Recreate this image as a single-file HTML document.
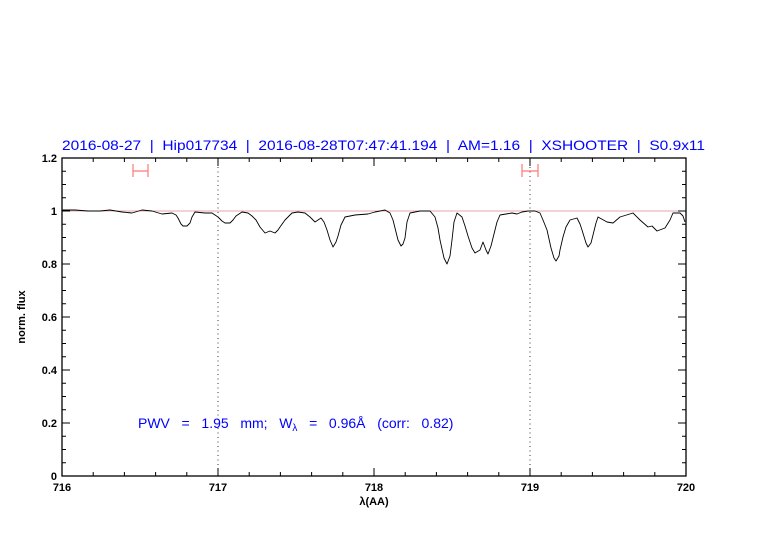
<!DOCTYPE html>
<html><head><meta charset="utf-8"><style>html,body{margin:0;padding:0;background:#fff}svg{display:block}</style></head>
<body>
<svg width="782" height="542" xmlns="http://www.w3.org/2000/svg" font-family="Liberation Sans, sans-serif">
<rect width="782" height="542" fill="#fff"/>
<text x="62" y="150" font-size="14" fill="#0000ff" xml:space="preserve" style="white-space:pre" textLength="643" lengthAdjust="spacingAndGlyphs">2016-08-27  |  Hip017734  |  2016-08-28T07:47:41.194  |  AM=1.16  |  XSHOOTER  |  S0.9x11</text>
<line x1="62" y1="211" x2="686" y2="211" stroke="#d88" stroke-width="0.8"/>
<line x1="218" y1="158" x2="218" y2="476" stroke="#000" stroke-width="0.8" stroke-dasharray="1,3.5"/>
<line x1="530" y1="158" x2="530" y2="476" stroke="#000" stroke-width="0.8" stroke-dasharray="1,3.5"/>
<g stroke="#f77" stroke-width="1.2" fill="none">
<path d="M133 171H148M133 164V177M148 164V177"/>
<path d="M522 171H538M522 164V177M538 164V177"/>
</g>
<polyline fill="none" stroke="#000" stroke-width="0.9" stroke-linejoin="round" points="62,211 63,210 75,210 88,211 100,211 110,210 122,212 132,213 142,210 152,211 162,214 172,213 176,215 178,218 181,224 183,226 187,226 190,223 192,217 195,212 205,213 212,213 218,217 222,221 225,223 230,223 233,220 236,216 242,212 248,213 252,216 256,220 260,227 265,233 270,231 275,233 278,230 280,227 285,220 292,213 298,212 305,213 310,217 315,222 321,218 324,222 327,230 330,240 333,247 336,242 338,236 341,225 345,217 355,215 368,214 375,212 380,211 385,210 390,213 393,220 395,228 398,240 401,246 403,244 405,238 407,222 410,213 420,211 430,211 435,217 438,228 440,240 444,258 447,264 450,256 452,240 454,222 457,213 462,217 465,226 468,236 472,248 475,253 480,250 483,242 486,250 488,254 491,246 494,234 497,222 500,215 512,213 517,214 522,212 528,211 535,211 540,213 543,220 547,230 551,248 554,258 556,261 559,256 560,250 563,237 566,227 570,220 577,218 580,224 582,230 586,243 588,247 591,243 593,235 596,223 598,217 607,222 613,223 620,217 633,213 640,220 648,227 652,226 657,231 665,228 670,220 673,213 680,213 683,216 685,222"/>
<rect x="62" y="158" width="624" height="318" stroke="#000" stroke-width="1.3" fill="none"/>
<g stroke="#000" stroke-width="1">
<path d="M62 476v-8M93.2 476v-4M124.4 476v-4M155.6 476v-4M186.8 476v-4M218 476v-8M249.2 476v-4M280.4 476v-4M311.6 476v-4M342.8 476v-4M374 476v-8M405.2 476v-4M436.4 476v-4M467.6 476v-4M498.8 476v-4M530 476v-8M561.2 476v-4M592.4 476v-4M623.6 476v-4M654.8 476v-4M686 476v-8"/>
<path d="M62 158v8M93.2 158v4M124.4 158v4M155.6 158v4M186.8 158v4M218 158v8M249.2 158v4M280.4 158v4M311.6 158v4M342.8 158v4M374 158v8M405.2 158v4M436.4 158v4M467.6 158v4M498.8 158v4M530 158v8M561.2 158v4M592.4 158v4M623.6 158v4M654.8 158v4M686 158v8"/>
<path d="M62 476h8M62 462.75h4M62 449.5h4M62 436.25h4M62 423h8M62 409.75h4M62 396.5h4M62 383.25h4M62 370h8M62 356.75h4M62 343.5h4M62 330.25h4M62 317h8M62 303.75h4M62 290.5h4M62 277.25h4M62 264h8M62 250.75h4M62 237.5h4M62 224.25h4M62 211h8M62 197.75h4M62 184.5h4M62 171.25h4M62 158h8"/>
<path d="M686 476h-8M686 462.75h-4M686 449.5h-4M686 436.25h-4M686 423h-8M686 409.75h-4M686 396.5h-4M686 383.25h-4M686 370h-8M686 356.75h-4M686 343.5h-4M686 330.25h-4M686 317h-8M686 303.75h-4M686 290.5h-4M686 277.25h-4M686 264h-8M686 250.75h-4M686 237.5h-4M686 224.25h-4M686 211h-8M686 197.75h-4M686 184.5h-4M686 171.25h-4M686 158h-8"/>
</g>
<g font-size="11" font-weight="bold" fill="#000" text-anchor="end">
<text x="57" y="480">0</text><text x="57" y="427">0.2</text><text x="57" y="374">0.4</text><text x="57" y="321">0.6</text><text x="57" y="268">0.8</text><text x="57" y="215">1</text><text x="57" y="162">1.2</text>
</g>
<g font-size="11" font-weight="bold" fill="#000" text-anchor="middle">
<text x="62" y="491">716</text><text x="218" y="491">717</text><text x="374" y="491">718</text><text x="530" y="491">719</text><text x="686" y="491">720</text>
<text x="374" y="505">λ(AA)</text>
<text transform="translate(25,317) rotate(-90)">norm. flux</text>
</g>
<text x="138" y="428" font-size="14" fill="#0000ff" xml:space="preserve" style="white-space:pre">PWV   =   1.95   mm;   W<tspan font-size="10" dy="3">λ</tspan><tspan dy="-3">   =   0.96Å   (corr:   0.82)</tspan></text>
</svg>
</body></html>
